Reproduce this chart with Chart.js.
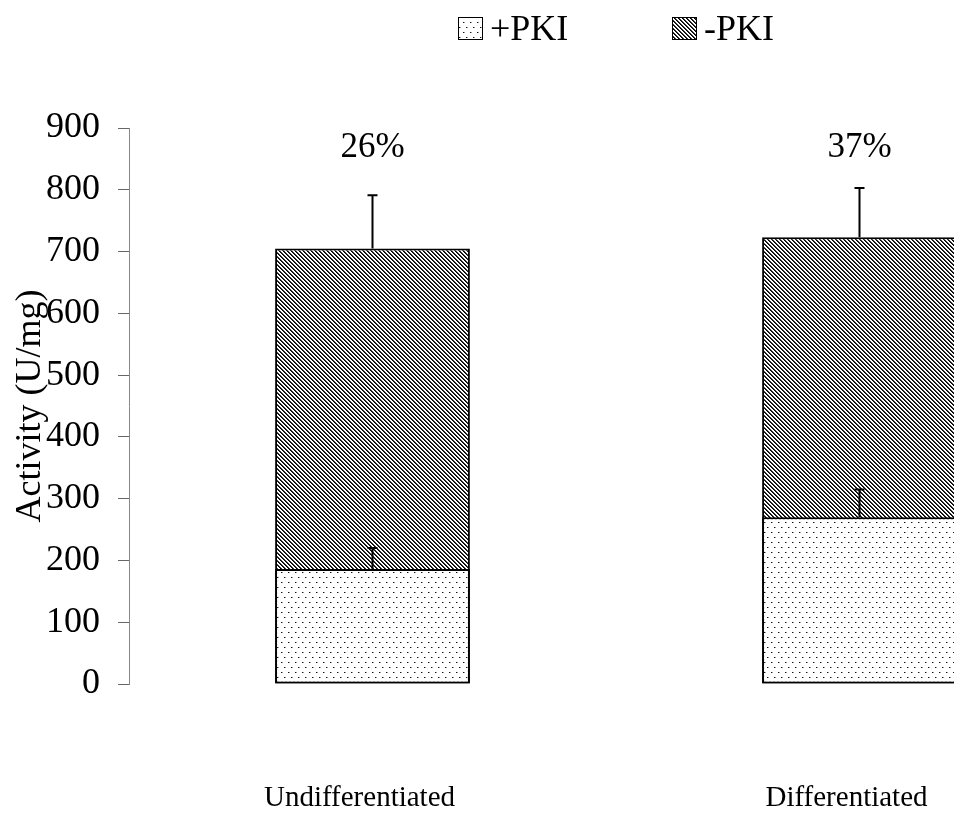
<!DOCTYPE html>
<html>
<head>
<meta charset="utf-8">
<script src="https://cdn.jsdelivr.net/npm/chart.js@4.4.0/dist/chart.umd.min.js"></script>
<style>
  html, body { margin: 0; padding: 0; background: #fff; overflow: hidden; width: 954px; height: 816px; }
  #wrap { position: relative; width: 1110px; height: 816px; }
</style>
</head>
<body>
<div id="wrap"><canvas id="c"></canvas></div>
<script>
// PKA activity with / without the PKI inhibitor peptide
const categories = ['Undifferentiated', 'Differentiated'];
const seriesNames = ['+PKI', '-PKI'];
const withPKI = [186, 270];
const withPKIErr = [34, 45];
const withoutPKI = [705, 723];
const withoutPKIErr = [86, 80];
const yTicks = [0, 100, 200, 300, 400, 500, 600, 700, 800, 900];
const yTitle = 'Activity (U/mg)';

const SERIF = '"Liberation Serif", "Times New Roman", Times, serif';

// Fill patterns: sparse dots and back-slash hatching
function makeTile(w, h, paint) {
  const t = document.createElement('canvas');
  t.width = w; t.height = h;
  const g = t.getContext('2d');
  g.fillStyle = '#fff';
  g.fillRect(0, 0, w, h);
  paint(g);
  return t;
}
const mainCtx = document.getElementById('c').getContext('2d');
const dotTile = makeTile(7, 10, g => {
  g.fillStyle = '#111';
  g.fillRect(1, 2, 1, 1);
  g.fillRect(4, 7, 1, 1);
  g.fillStyle = '#999';
  g.fillRect(2, 2, 1, 1);
  g.fillRect(5, 7, 1, 1);
});
const hatchTile = makeTile(4, 4, g => {
  for (let y = 0; y < 4; y++) {
    for (let x = 0; x < 4; x++) {
      const k = ((x - y) % 4 + 4) % 4;
      if (k === 0) { g.fillStyle = '#000'; g.fillRect(x, y, 1, 1); }
      else if (k === 1) { g.fillStyle = '#333'; g.fillRect(x, y, 1, 1); }
    }
  }
});
const dotPattern = mainCtx.createPattern(dotTile, 'repeat');
const hatchPattern = mainCtx.createPattern(hatchTile, 'repeat');

const errors = [withPKIErr, withoutPKIErr];

// Upward error whiskers on every bar
const errorBars = {
  id: 'errorBars',
  afterDatasetsDraw(chart) {
    const { ctx } = chart;
    const ys = chart.scales.y;
    chart.data.datasets.forEach((ds, i) => {
      chart.getDatasetMeta(i).data.forEach((bar, j) => {
        const tip = ys.getPixelForValue(ds.data[j] + errors[i][j]);
        const base = ys.getPixelForValue(ds.data[j]);
        ctx.save();
        ctx.strokeStyle = '#000';
        ctx.lineWidth = 2;
        ctx.beginPath();
        ctx.moveTo(bar.x, base);
        ctx.lineTo(bar.x, tip);
        ctx.moveTo(bar.x - 5, tip);
        ctx.lineTo(bar.x + 5, tip);
        ctx.stroke();
        ctx.restore();
      });
    });
  }
};

// Share of activity remaining with PKI, written above each pair
const shareLabels = {
  id: 'shareLabels',
  afterDatasetsDraw(chart) {
    const { ctx } = chart;
    const ys = chart.scales.y;
    const bars = chart.getDatasetMeta(1).data;
    ctx.save();
    ctx.fillStyle = '#000';
    ctx.font = '35px ' + SERIF;
    ctx.textAlign = 'center';
    ctx.textBaseline = 'alphabetic';
    bars.forEach((bar, j) => {
      const pct = Math.round(withPKI[j] / withoutPKI[j] * 100) + '%';
      ctx.fillText(pct, bar.x, ys.getPixelForValue(ys.max) + 29);
    });
    ctx.restore();
  }
};

// Legend row with pattern swatches
const swatchLegend = {
  id: 'swatchLegend',
  afterDraw(chart) {
    const { ctx } = chart;
    const xs = [458, 672];
    ctx.save();
    ctx.font = '36px ' + SERIF;
    ctx.textBaseline = 'alphabetic';
    ctx.textAlign = 'left';
    chart.data.datasets.forEach((ds, i) => {
      const x = xs[i];
      ctx.fillStyle = ds.backgroundColor;
      ctx.fillRect(x, 17, 24, 23);
      ctx.strokeStyle = '#000';
      ctx.lineWidth = 1;
      ctx.strokeRect(x + 0.5, 17.5, 24, 22);
      ctx.fillStyle = '#000';
      ctx.fillText(ds.label, x + 32, 40);
    });
    ctx.restore();
  }
};

new Chart(document.getElementById('c'), {
  type: 'bar',
  data: {
    labels: categories,
    datasets: [
      {
        label: seriesNames[0],
        data: withPKI,
        backgroundColor: dotPattern,
        borderColor: '#000',
        borderWidth: 2,
        borderSkipped: false,
        grouped: false,
        barPercentage: 0.4,
        categoryPercentage: 1
      },
      {
        label: seriesNames[1],
        data: withoutPKI,
        backgroundColor: hatchPattern,
        borderColor: '#000',
        borderWidth: 2,
        borderSkipped: false,
        grouped: false,
        barPercentage: 0.4,
        categoryPercentage: 1
      }
    ]
  },
  options: {
    responsive: true,
    maintainAspectRatio: false,
    animation: false,
    layout: { padding: { left: 0, right: 7, top: 128, bottom: 0 } },
    plugins: {
      legend: { display: false },
      tooltip: { enabled: false }
    },
    scales: {
      x: {
        grid: { display: false, drawTicks: false },
        border: { display: false },
        ticks: {
          font: { family: SERIF, size: 29 },
          color: '#000',
          padding: 97,
          labelOffset: -13,
          maxRotation: 0,
          autoSkip: false
        },
        afterFit(scale) { scale.height = 132; }
      },
      y: {
        min: 0,
        max: 900,
        afterBuildTicks(scale) { scale.ticks = yTicks.map(v => ({ value: v })); },
        grid: { drawOnChartArea: false, drawTicks: true, tickLength: 11, color: '#666', lineWidth: 1 },
        border: { display: true, color: '#888', width: 1 },
        ticks: {
          font: { family: SERIF, size: 36 },
          color: '#000',
          padding: 18
        },
        title: {
          display: true,
          text: yTitle,
          font: { family: SERIF, size: 36 },
          color: '#000',
          padding: { top: 9, bottom: 0 }
        },
        afterFit(scale) { scale.width = 129; }
      }
    }
  },
  plugins: [errorBars, shareLabels, swatchLegend]
});
</script>
</body>
</html>
